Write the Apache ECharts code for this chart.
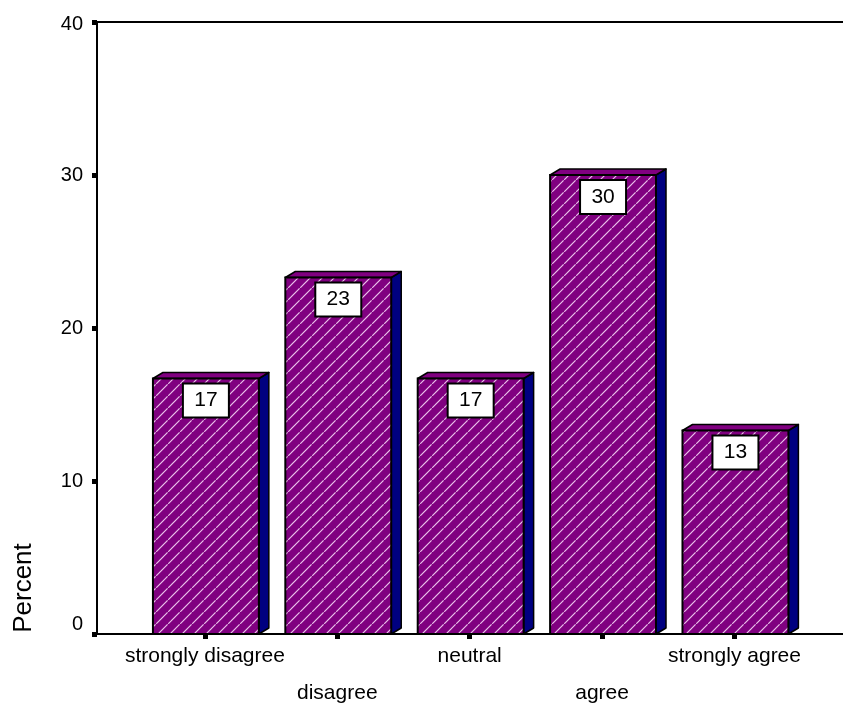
<!DOCTYPE html>
<html>
<head>
<meta charset="utf-8">
<style>
html, body { margin: 0; padding: 0; background: #fff; }
#chart { width: 843px; height: 704px; }
</style>
<script src="https://cdn.jsdelivr.net/npm/echarts@6/dist/echarts.min.js"></script>
</head>
<body>
<div id="chart"></div>
<script>
var categories = ['strongly disagree', 'disagree', 'neutral', 'agree', 'strongly agree'];
var percent = [16.7, 23.3, 16.7, 30, 13.3];
var barLabels = ['17', '23', '17', '30', '13'];

// hatch fill for the front of the bars
var hatch = document.createElement('canvas');
hatch.width = 12;
hatch.height = 12;
var ctx = hatch.getContext('2d');
ctx.fillStyle = '#800080';
ctx.fillRect(0, 0, 12, 12);
ctx.strokeStyle = '#ecc4ec';
ctx.lineWidth = 1.2;
ctx.beginPath();
ctx.moveTo(0.2, 11.8);
ctx.lineTo(11.6, 0.4);
ctx.stroke();

var barData = percent.map(function(v, i) {
	return [i, v];
});

function renderBar(params, api) {
	var i = api.value(0);
	var top = api.coord([i, api.value(1)]);
	var base = api.coord([i, 0]);
	var w = api.size([1, 0])[0] * 0.8;
	var l = top[0] - w / 2 + 1;
	var r = l + w;
	var dx = 10, dy = 6;
	var line = { stroke: '#000', lineWidth: 1.5, lineJoin: 'round' };
	return {
		type: 'group',
		children: [{
			type: 'polygon',
			shape: { points: [[r, top[1]], [r + dx, top[1] - dy], [r + dx, base[1] - dy], [r, base[1]]] },
			style: Object.assign({ fill: '#000080' }, line)
		}, {
			type: 'polygon',
			shape: { points: [[l, top[1]], [l + dx, top[1] - dy], [r + dx, top[1] - dy], [r, top[1]]] },
			style: Object.assign({ fill: '#800080' }, line)
		}, {
			type: 'rect',
			shape: { x: l, y: top[1], width: w, height: base[1] - top[1] },
			style: { fill: { image: hatch, repeat: 'repeat' }, stroke: '#000', lineWidth: 2 }
		}, {
			type: 'rect',
			shape: { x: (l + r) / 2 - 23, y: top[1] + 5, width: 46, height: 34 },
			style: { fill: '#fff', stroke: '#000', lineWidth: 2 }
		}, {
			type: 'text',
			style: {
				text: barLabels[i],
				x: (l + r) / 2,
				y: top[1] + 22,
				align: 'center',
				verticalAlign: 'middle',
				fill: '#000',
				font: '21px "Liberation Sans"'
			}
		}]
	};
}

var myChart = echarts.init(document.getElementById('chart'));
myChart.setOption({
	animation: false,
	backgroundColor: '#fff',
	textStyle: { fontFamily: 'Liberation Sans' },
	grid: { left: 97, top: 22, right: 0, height: 612, outerBoundsMode: 'none' },
	graphic: [{
		type: 'text',
		x: 24,
		y: 588,
		rotation: Math.PI / 2,
		style: {
			text: 'Percent',
			align: 'center',
			verticalAlign: 'middle',
			fill: '#000',
			font: '26px "Liberation Sans"'
		}
	}],
	xAxis: [{
		type: 'value',
		min: -0.815,
		max: 4.82,
		splitLine: { show: false },
		axisLine: { onZero: false, lineStyle: { color: '#000', width: 2 } },
		axisTick: { customValues: [0, 1, 2, 3, 4], length: 5, lineStyle: { color: '#000', width: 5 } },
		axisLabel: {
			customValues: [0, 1, 2, 3, 4],
			margin: 4,
			color: '#000',
			fontSize: 21,
			lineHeight: 37,
			formatter: function(v) {
				return (v % 2 ? '\n' : '') + categories[v];
			}
		}
	}, {
		type: 'value',
		position: 'top',
		min: -0.815,
		max: 4.82,
		splitLine: { show: false },
		axisLine: { onZero: false, lineStyle: { color: '#000', width: 2 } },
		axisTick: { show: false },
		axisLabel: { show: false }
	}],
	yAxis: {
		type: 'value',
		min: 0,
		max: 40,
		interval: 10,
		splitLine: { show: false },
		axisLine: { onZero: false, lineStyle: { color: '#000', width: 2 } },
		axisTick: { length: 5, lineStyle: { color: '#000', width: 5 } },
		axisLabel: {
			margin: 14,
			color: '#000',
			fontSize: 20,
			verticalAlignMinLabel: 'bottom',
			formatter: function(v) {
				return v === 40 ? '{top|' + v + '}' : v;
			},
			rich: { top: { fontSize: 20, color: '#000', padding: [4, 0, 0, 0] } }
		}
	},
	series: [{
		type: 'custom',
		renderItem: renderBar,
		data: barData,
		clip: false
	}]
});
</script>
</body>
</html>
